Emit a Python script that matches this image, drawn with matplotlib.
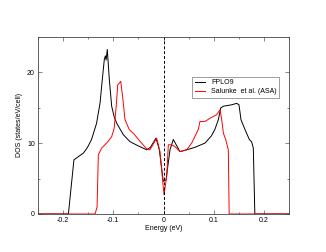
import numpy as np
import matplotlib
matplotlib.use("Agg")
import matplotlib.pyplot as plt
from matplotlib.ticker import MultipleLocator

plt.rcParams['font.family'] = ['Liberation Sans', 'DejaVu Sans']

# FPLO9 DOS
fplo_e = [-0.25, -0.189, -0.178, -0.169, -0.159, -0.151, -0.143, -0.133, -0.126, -0.1216,
          -0.1176, -0.1155, -0.114, -0.1117, -0.1077, -0.103, -0.098, -0.093, -0.08,
          -0.0666, -0.05, -0.0334, -0.026, -0.0149, -0.0083, -0.0004, 0.005, 0.0129,
          0.0195, 0.0328, 0.046, 0.0625, 0.0825, 0.095, 0.102, 0.109, 0.1137,
          0.119, 0.1355, 0.1455, 0.150, 0.154, 0.162, 0.1706, 0.175, 0.1785, 0.1815, 0.25]
fplo_dos = [0.0, 0.0, 7.64, 8.1, 8.6, 9.4, 10.5, 12.8, 15.7, 19.0,
            21.8, 22.3, 21.7, 23.2, 19.0, 15.2, 13.7, 12.8, 11.2,
            10.2, 9.6, 9.05, 9.4, 10.7, 9.05, 4.6, 4.8, 9.05,
            10.5, 8.8, 9.05, 9.4, 10.0, 11.0, 11.9, 13.3, 14.95,
            15.2, 15.4, 15.6, 15.4, 13.3, 11.9, 10.5, 10.2, 9.3, 0.0, 0.0]

# Salunke et al. (ASA)
asa_e = [-0.25, -0.136, -0.132, -0.1295, -0.123, -0.113, -0.103, -0.098, -0.094, -0.091,
         -0.085, -0.081, -0.0765, -0.068, -0.059, -0.046, -0.033, -0.027,
         -0.0135, -0.007, -0.0036, 0.001, 0.0064, 0.0096, 0.016, 0.023, 0.0328, 0.046,
         0.056, 0.069, 0.0725, 0.0825, 0.0924, 0.1057, 0.1123, 0.1157, 0.119, 0.1236,
         0.1288, 0.1305, 0.25]
asa_dos = [0.0, 0.0, 1.0, 8.35, 9.3, 10.0, 10.9, 12.1, 15.2, 18.2,
           18.7, 16.4, 13.3, 11.9, 11.3, 10.2, 9.15, 9.05,
           10.7, 8.8, 6.2, 2.7, 5.3, 9.76, 9.76, 9.5, 8.8, 9.05,
           10.0, 11.9, 13.05, 13.05, 13.5, 14.0, 14.7, 13.3, 11.4, 10.5,
           9.05, 0.0, 0.0]

fig = plt.figure(figsize=(3.26, 2.52), dpi=100)
ax = fig.add_axes([37.7 / 326, 38 / 252, 251.6 / 326, 177.3 / 252])

ax.plot(fplo_e, fplo_dos, color='black', lw=0.7, label='FPLO9')
ax.plot(asa_e, asa_dos, color='red', lw=0.7, label='Salunke  et al. (ASA)')
ax.axvline(0, color='black', lw=0.7, ls=(0, (3, 2)))

ax.set_xlim(-0.25, 0.25)
ax.set_ylim(0, 25)
ax.xaxis.set_minor_locator(MultipleLocator(0.05))
ax.yaxis.set_major_locator(MultipleLocator(10))
ax.yaxis.set_minor_locator(MultipleLocator(5))
ax.set_xticks([-0.2, -0.1, 0, 0.1, 0.2])
ax.set_xticklabels(['-0.2', '-0.1', '0', '0.1', '0.2'])
ax.tick_params(which='both', direction='in', top=True, right=True,
               labelsize=5, width=0.5, color='#555555', pad=2)
ax.tick_params(which='major', length=3)
ax.tick_params(which='minor', length=1.5)
for s in ax.spines.values():
    s.set_linewidth(0.6)
    s.set_color('#444444')

ax.set_xlabel('Energy (eV)', fontsize=5, labelpad=1)
ax.set_ylabel('DOS (states/eV/cell)', fontsize=5, labelpad=3)

leg = ax.legend(loc='upper left', bbox_to_anchor=(0.60, 0.795), fontsize=5,
                frameon=True, fancybox=False, edgecolor='#555555',
                handlelength=1.5, borderpad=0.4, labelspacing=0.3)
leg.get_frame().set_linewidth(0.5)

fig.savefig('out.png', dpi=100)
